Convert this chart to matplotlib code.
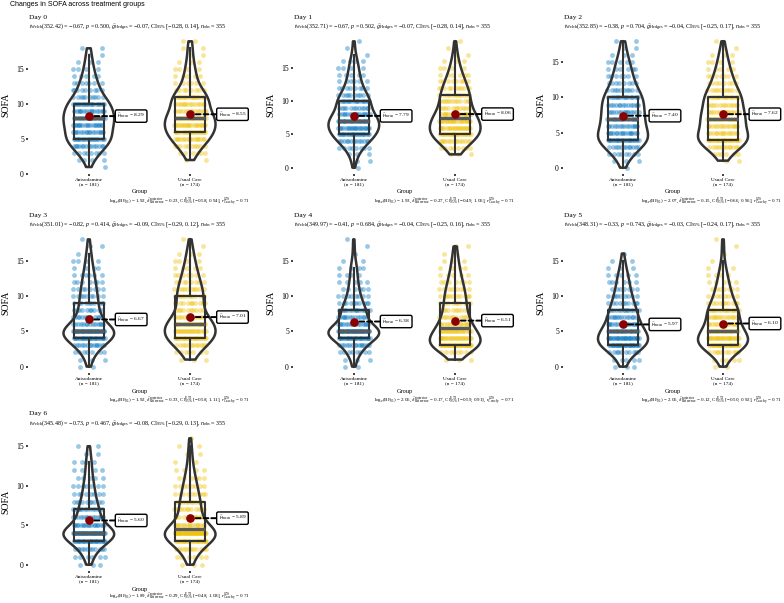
import numpy as np
import matplotlib.pyplot as plt

W, H = 784, 603

days = ["Day 0", "Day 1", "Day 2", "Day 3", "Day 4", "Day 5", "Day 6"]
groups = ["Anisodamine", "Usual Care"]
group_n = [181, 174]
group_colors = ["#0073C2", "#EFC000"]
sofa_scores = list(range(20))

# patients per SOFA score 0..19 (one row per day)
aniso_counts = [
    [0, 1, 4, 8, 14, 20, 16, 18, 22, 16, 20, 10, 9, 7, 5, 4, 3, 2, 2, 0],
    [1, 2, 3, 8, 13, 22, 20, 26, 16, 12, 18, 10, 8, 6, 5, 4, 4, 1, 1, 1],
    [1, 3, 8, 12, 24, 16, 14, 16, 14, 14, 16, 10, 8, 7, 6, 5, 3, 2, 2, 0],
    [2, 3, 7, 14, 26, 40, 14, 12, 10, 10, 9, 8, 7, 6, 4, 4, 2, 2, 1, 0],
    [2, 3, 8, 14, 26, 40, 16, 14, 16, 10, 8, 6, 5, 4, 4, 2, 1, 1, 1, 0],
    [3, 5, 10, 28, 26, 22, 16, 14, 14, 10, 9, 7, 6, 5, 3, 2, 1, 0, 0, 0],
    [3, 6, 12, 26, 46, 18, 14, 14, 10, 8, 7, 5, 4, 4, 2, 2, 0, 0, 0, 0],
]
usual_counts = [
    [0, 0, 2, 6, 10, 16, 20, 20, 22, 14, 14, 18, 8, 6, 5, 4, 3, 2, 2, 2],
    [0, 0, 3, 8, 14, 22, 20, 20, 16, 12, 12, 12, 10, 8, 6, 4, 3, 2, 1, 1],
    [0, 2, 6, 12, 26, 14, 14, 18, 14, 12, 16, 10, 8, 7, 5, 4, 3, 2, 1, 0],
    [0, 3, 7, 12, 24, 20, 24, 12, 10, 10, 12, 10, 8, 7, 5, 4, 3, 2, 1, 0],
    [0, 3, 8, 34, 22, 20, 14, 12, 10, 10, 10, 8, 7, 5, 4, 3, 2, 2, 0, 0],
    [2, 5, 10, 28, 24, 20, 14, 14, 16, 10, 8, 7, 5, 4, 3, 1, 1, 1, 1, 0],
    [3, 6, 12, 24, 42, 16, 12, 12, 12, 9, 8, 6, 4, 3, 2, 2, 1, 0, 0, 0],
]

aniso_mean = [8.29, 7.79, 7.40, 6.67, 6.38, 5.97, 5.60]
usual_mean = [8.55, 8.06, 7.62, 7.01, 6.51, 6.10, 5.89]

# Welch t-test results (subtitle)
welch_df = [352.42, 352.71, 352.85, 351.01, 349.97, 348.31, 345.48]
t_value = [-0.67, -0.67, -0.38, -0.82, -0.41, -0.33, -0.73]
p_value = [0.500, 0.502, 0.704, 0.414, 0.684, 0.743, 0.467]
g_hedges = [-0.07, -0.07, -0.04, -0.09, -0.04, -0.03, -0.08]
g_ci_low = [-0.28, -0.28, -0.25, -0.29, -0.25, -0.24, -0.29]
g_ci_high = [0.14, 0.14, 0.17, 0.12, 0.16, 0.17, 0.13]
n_obs = 355

# Bayesian results (caption)
log_bf01 = [1.92, 1.93, 2.07, 1.92, 2.06, 2.06, 1.89]
delta_post = [0.23, 0.27, 0.15, 0.33, 0.17, 0.12, 0.29]
eti_low = [-0.58, -0.49, -0.66, -0.58, -0.59, -0.50, -0.48]
eti_high = [0.94, 1.06, 0.96, 1.11, 0.91, 0.92, 1.08]
r_cauchy = 0.71

plt.rcParams['font.family'] = ['Liberation Serif', 'DejaVu Serif']
plt.rcParams['mathtext.fontset'] = 'custom'
plt.rcParams['mathtext.rm'] = 'Liberation Serif'
plt.rcParams['mathtext.it'] = 'Liberation Serif:italic'
plt.rcParams['mathtext.bf'] = 'Liberation Serif:bold'


def num(x, fmt="{:.2f}"):
    return fmt.format(x).replace("-", "\u2212")


def fx(px):
    return px / W


def fy(py):
    return 1 - py / H


col_left = [28, 293, 563]
col_right = [251, 516, 783]
row_top = [35, 233, 432]
row_bot = [174, 373, 571]

fig = plt.figure(figsize=(W / 100, H / 100), dpi=100)
fig.text(fx(10), fy(5), "Changes in SOFA across treatment groups",
         family=['Liberation Sans', 'DejaVu Sans'], size=5.0, ha='left', va='center')

golden = 0.6180339887

for k, day in enumerate(days):
    r, c = divmod(k, 3)
    left, right, top, bot = col_left[c], col_right[c], row_top[r], row_bot[r]
    ax = fig.add_axes([fx(left), fy(bot), (right - left) / W, (bot - top) / H])

    lo, hi = 99, -1
    for g, (counts, means) in enumerate([(aniso_counts, aniso_mean), (usual_counts, usual_mean)]):
        pos = g + 1
        cnts = counts[k]
        values = np.repeat(sofa_scores, cnts).astype(float)
        lo, hi = min(lo, values.min()), max(hi, values.max())

        # spread points sideways (deterministic, golden-ratio sequence)
        xs, ys = [], []
        for score, cnt in zip(sofa_scores, cnts):
            if cnt == 0:
                continue
            i = np.arange(cnt)
            offs = (((i + 1) * golden + score * 0.37) % 1.0 - 0.5) * 0.32
            xs.extend(pos + offs)
            ys.extend([score] * cnt)
        ax.scatter(xs, ys, s=12, color=group_colors[g], alpha=0.4, linewidths=0, zorder=1)

        # box
        ax.boxplot([values], positions=[pos], widths=0.3, showfliers=False, showcaps=False,
                   manage_ticks=False, zorder=2,
                   boxprops=dict(color='#333333', linewidth=1.5),
                   whiskerprops=dict(color='#333333', linewidth=1.5),
                   medianprops=dict(color='#5a5a5a', linewidth=2.4))

        # violin, bandwidth like R's bw.nrd0
        sd = values.std(ddof=1)
        q75, q25 = np.percentile(values, [75, 25])
        bw = 0.9 * min(sd, (q75 - q25) / 1.34) * len(values) ** -0.2
        vp = ax.violinplot([values], positions=[pos], widths=0.5, showextrema=False,
                           bw_method=bw / sd)
        for b in vp['bodies']:
            b.set_facecolor('none')
            b.set_edgecolor('#333333')
            b.set_linewidth(1.8)
            b.set_alpha(1)
            b.set_zorder(3)

        # mean point and label
        m = means[k]
        ax.plot(pos, m, 'o', ms=5.2, color='#8B0000', zorder=4)
        ax.annotate(r"$\widehat{\mu}_{\mathrm{mean}}$ = " + num(m), xy=(pos, m),
                    xytext=(pos + 0.28, m), ha='left', va='center', size=3.9, zorder=5,
                    bbox=dict(boxstyle='round,pad=0.35,rounding_size=0.3', fc='white',
                              ec='black', lw=1.0),
                    arrowprops=dict(arrowstyle='-', color='black', lw=1.4,
                                    ls=(0, (2.5, 1.5)), shrinkA=0, shrinkB=3))

    pad = 0.05 * (hi - lo)
    ax.set_ylim(lo - pad, hi + pad)
    ax.set_xlim(0.4, 2.6)
    ax.set_yticks([0, 5, 10, 15])
    ax.set_yticklabels(["0", "5", "10", "15"], fontsize=5.5)
    ax.set_xticks([1, 2])
    ax.set_xticklabels([f"{gname}\n(n = {n})" for gname, n in zip(groups, group_n)],
                       fontsize=3.8, linespacing=1.0)
    ax.tick_params(length=1.5, width=1.3, color='#333333', pad=1.5)
    for s in ax.spines.values():
        s.set_visible(False)

    # texts around the panel
    fig.text(fx(left + 1), fy(top - 18), day, size=5.4, ha='left', va='center')
    subtitle = (r"$t_{\mathrm{Welch}}$(" + f"{welch_df[k]:.2f}" + ") = " + num(t_value[k])
                + r", $p$ = " + f"{p_value[k]:.3f}"
                + r", $\widehat{g}_{\mathrm{Hedges}}$ = " + num(g_hedges[k])
                + r", CI$_{95\%}$ [" + num(g_ci_low[k]) + ", " + num(g_ci_high[k]) + "]"
                + r", $n_{\mathrm{obs}}$ = " + str(n_obs))
    fig.text(fx(left + 1), fy(top - 8), subtitle, size=4.35, ha='left', va='center')
    fig.text(fx(left - 22), fy((top + bot) / 2), "SOFA", size=7, rotation=90,
             ha='center', va='center')
    fig.text(fx((left + right) / 2), fy(bot + 18), "Group", size=4.5, ha='center', va='center')
    caption = (r"$\mathrm{log}_{e}(\mathrm{BF}_{01})$ = " + num(log_bf01[k])
               + r", $\widehat{\delta}_{\mathrm{difference}}^{\mathrm{posterior}}$ = " + num(delta_post[k])
               + r", CI$_{95\%}^{\mathrm{ETI}}$ [" + num(eti_low[k]) + ", " + num(eti_high[k]) + "]"
               + r", $r_{\mathrm{Cauchy}}^{\mathrm{JZS}}$ = " + f"{r_cauchy:.2f}")
    fig.text(fx(right - 1), fy(min(bot + 28, H - 6)), caption, size=3.6, ha='right', va='center')

fig.savefig("out.png", dpi=100)
